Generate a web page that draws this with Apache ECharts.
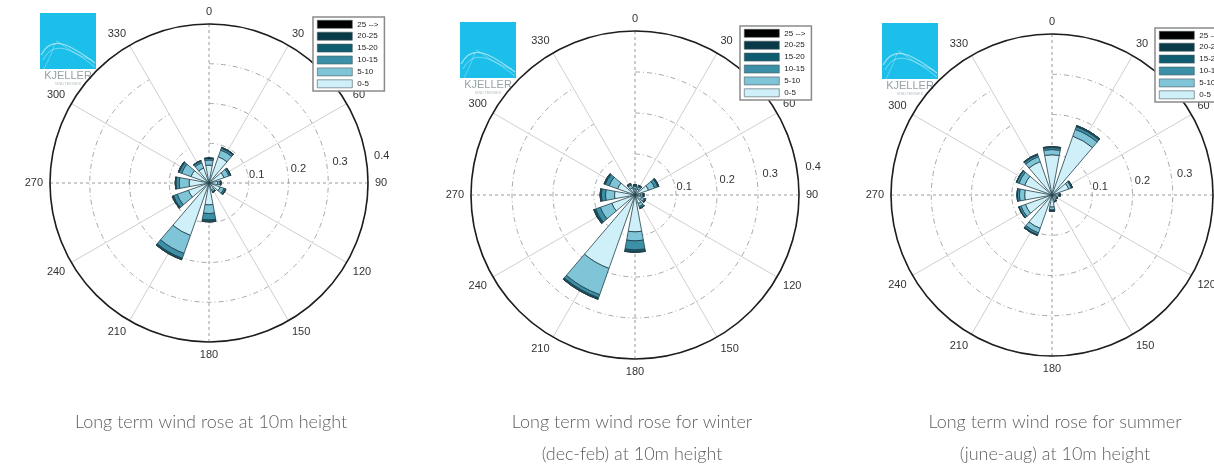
<!DOCTYPE html>
<html>
<head>
<meta charset="utf-8">
<style>
  html, body { margin: 0; padding: 0; background: #ffffff; }
  #chart { width: 1214px; height: 466px; }
</style>
<script src="https://cdn.jsdelivr.net/npm/echarts@6/dist/echarts.min.js"></script>
</head>
<body>
<div id="chart"></div>
<script>
// Sector centres in degrees (clockwise from north)
const directions = ['0', '30', '60', '90', '120', '150', '180', '210', '240', '270', '300', '330'];

// Wind speed classes (m/s), lowest first = innermost ring of each bar
const speedClasses = ['0-5', '5-10', '10-15', '15-20', '20-25', '25 -->'];
const classColors = ['#cfeff9', '#80c4d8', '#3b8fa6', '#0f5c70', '#083a48', '#000000'];

// Relative frequency per sector, one row per speed class (0-5 first)
const annualFreq = [
  [0.045, 0.070, 0.040, 0.022, 0.030, 0.018, 0.055, 0.140, 0.055, 0.050, 0.048, 0.040],
  [0.013, 0.018, 0.013, 0.006, 0.010, 0.005, 0.022, 0.048, 0.030, 0.025, 0.025, 0.014],
  [0.004, 0.005, 0.004, 0.002, 0.004, 0.002, 0.016, 0.013, 0.010, 0.008, 0.007, 0.005],
  [0.001, 0.002, 0.001, 0.000, 0.001, 0.000, 0.004, 0.003, 0.003, 0.002, 0.002, 0.001],
  [0.000, 0.000, 0.000, 0.000, 0.000, 0.000, 0.001, 0.001, 0.000, 0.000, 0.000, 0.000],
  [0.000, 0.000, 0.000, 0.000, 0.000, 0.000, 0.000, 0.000, 0.000, 0.000, 0.000, 0.000]
];
const winterFreq = [
  [0.015, 0.015, 0.035, 0.014, 0.017, 0.022, 0.090, 0.190, 0.060, 0.050, 0.045, 0.018],
  [0.006, 0.006, 0.016, 0.005, 0.007, 0.008, 0.022, 0.068, 0.030, 0.022, 0.022, 0.008],
  [0.003, 0.003, 0.008, 0.002, 0.003, 0.004, 0.022, 0.008, 0.012, 0.010, 0.010, 0.003],
  [0.001, 0.001, 0.002, 0.001, 0.001, 0.001, 0.005, 0.003, 0.004, 0.003, 0.003, 0.001],
  [0.000, 0.000, 0.001, 0.000, 0.000, 0.000, 0.001, 0.001, 0.001, 0.000, 0.000, 0.000],
  [0.000, 0.000, 0.000, 0.000, 0.000, 0.000, 0.000, 0.000, 0.000, 0.000, 0.000, 0.000]
];
const summerFreq = [
  [0.100, 0.155, 0.044, 0.016, 0.012, 0.014, 0.030, 0.088, 0.070, 0.068, 0.072, 0.088],
  [0.013, 0.018, 0.007, 0.003, 0.002, 0.003, 0.007, 0.012, 0.012, 0.013, 0.015, 0.013],
  [0.005, 0.007, 0.002, 0.001, 0.001, 0.001, 0.003, 0.005, 0.005, 0.005, 0.006, 0.005],
  [0.002, 0.003, 0.001, 0.000, 0.000, 0.000, 0.000, 0.002, 0.001, 0.001, 0.001, 0.002],
  [0.000, 0.000, 0.000, 0.000, 0.000, 0.000, 0.000, 0.000, 0.000, 0.000, 0.000, 0.000],
  [0.000, 0.000, 0.000, 0.000, 0.000, 0.000, 0.000, 0.000, 0.000, 0.000, 0.000, 0.000]
];

const captions = [
  ['Long term wind rose at 10m height'],
  ['Long term wind rose for winter', '(dec-feb) at 10m height'],
  ['Long term wind rose for summer', '(june-aug) at 10m height']
];

const radiusMax = 0.4;
const radiusStep = 0.1;
const cardinalStep = 90;

// Panel layout: rose centre/radius, legend box, logo corner, caption centre
const panels = [
  { freq: annualFreq, center: [209, 183], r: 159, legend: [313, 17], logo: [40, 13], capX: 211 },
  { freq: winterFreq, center: [635, 195], r: 164, legend: [740, 26], logo: [460, 22], capX: 632 },
  { freq: summerFreq, center: [1052, 195], r: 161, legend: [1155, 28], logo: [882, 23], capX: 1055 }
];

const polar = [], angleAxis = [], radiusAxis = [], series = [], legend = [], graphic = [];
const labelFont = { fontFamily: 'Liberation Sans, Arial, sans-serif', fontSize: 11, color: '#333' };
const hidden = { axisLine: { show: false }, axisTick: { show: false }, axisLabel: { show: false }, splitLine: { show: false } };

panels.forEach((p, i) => {
  const base = polar.length;

  // 1) main grid: 30-degree spokes, dash-dot rings, direction labels
  polar.push({ center: p.center, radius: p.r });
  angleAxis.push({
    polarIndex: base, type: 'category', data: directions, boundaryGap: false,
    startAngle: 90, clockwise: true,
    axisLine: { show: false },
    axisTick: { show: false },
    axisLabel: Object.assign({ margin: 7 }, labelFont),
    splitLine: { show: true, lineStyle: { color: ['rgba(0,0,0,0)', '#cfcfcf', '#cfcfcf'], width: 1 } }
  });
  radiusAxis.push({
    polarIndex: base, type: 'value', min: 0, max: radiusMax, interval: radiusStep,
    axisLine: { show: false }, axisTick: { show: false }, axisLabel: { show: false },
    splitLine: { show: true, lineStyle: { color: '#a9a9a9', width: 1, type: [5, 3, 1, 3] } }
  });

  // 2) full outer circle plus dashed N-S / E-W axes
  polar.push({ center: p.center, radius: p.r });
  angleAxis.push({
    polarIndex: base + 1, type: 'value', min: 0, max: 360, interval: cardinalStep,
    startAngle: 90, clockwise: true,
    axisLine: { show: true, lineStyle: { color: '#1e1e1e', width: 1.6 } },
    axisTick: { show: false }, axisLabel: { show: false },
    splitLine: { show: true, lineStyle: { color: '#9a9a9a', width: 1, type: [3, 3] } }
  });
  radiusAxis.push(Object.assign({ polarIndex: base + 1, type: 'value', min: 0, max: radiusMax }, hidden));

  // 3) frequency labels laid out just outside each ring
  polar.push({ center: p.center, radius: [p.r * 0.038, p.r * 1.1] });
  angleAxis.push({ polarIndex: base + 2, type: 'value', startAngle: 9, show: false });
  radiusAxis.push({
    polarIndex: base + 2, type: 'value', min: 0, max: radiusMax, interval: radiusStep,
    axisLine: { show: false }, axisTick: { show: false }, splitLine: { show: false },
    axisLabel: Object.assign({ show: true, showMinLabel: false, margin: 0, align: 'center', verticalAlign: 'middle' }, labelFont)
  });

  // stacked sectors, one series per speed class
  speedClasses.forEach((name, k) => {
    series.push({
      type: 'bar', name, coordinateSystem: 'polar', polarIndex: base,
      stack: 'rose' + i, barWidth: '70%',
      data: p.freq[k],
      itemStyle: { color: classColors[k], borderColor: '#21404a', borderWidth: 0.8 },
      emphasis: { disabled: true }, silent: true, animation: false
    });
  });

  legend.push({
    left: p.legend[0], top: p.legend[1], orient: 'vertical',
    data: speedClasses.slice().reverse(),
    icon: 'rect', itemWidth: 35, itemHeight: 8, itemGap: 3.3,
    padding: [3, 6, 3, 4], backgroundColor: '#ffffff',
    borderColor: '#8a8a8a', borderWidth: 1.5, borderRadius: 0,
    selectedMode: false,
    itemStyle: { borderWidth: 0.6, borderColor: '#4a5a60' },
    textStyle: { fontFamily: 'Liberation Sans, Arial, sans-serif', fontSize: 8, lineHeight: 8, color: '#222' }
  });

  // company mark in the upper-left corner
  const [lx, ly] = p.logo;
  graphic.push({
    type: 'group', x: lx, y: ly, z: 20,
    children: [
      { type: 'rect', shape: { x: 0, y: 0, width: 56, height: 56 }, style: { fill: '#1cbfe9' } },
      { type: 'bezierCurve', shape: { x1: 1, y1: 42, cpx1: 12, cpy1: 22, cpx2: 28, cpy2: 30, x2: 55, y2: 50 },
        style: { stroke: 'rgba(255,255,255,0.55)', lineWidth: 1.2, fill: null } },
      { type: 'bezierCurve', shape: { x1: 3, y1: 47, cpx1: 14, cpy1: 26, cpx2: 32, cpy2: 36, x2: 55, y2: 54 },
        style: { stroke: 'rgba(255,255,255,0.4)', lineWidth: 1, fill: null } },
      { type: 'bezierCurve', shape: { x1: 16, y1: 28, cpx1: 22, cpy1: 30, cpx2: 30, cpy2: 40, x2: 52, y2: 47 },
        style: { stroke: 'rgba(255,255,255,0.35)', lineWidth: 1, fill: null } },
      { type: 'bezierCurve', shape: { x1: 15, y1: 30, cpx1: 12, cpy1: 40, cpx2: 8, cpy2: 48, x2: 4, y2: 56 },
        style: { stroke: 'rgba(255,255,255,0.3)', lineWidth: 1, fill: null } },
      { type: 'text', x: 28, y: 63, style: { text: 'KJELLER', fill: '#95a3a8', fontSize: 11,
        fontFamily: 'Liberation Sans, Arial, sans-serif', align: 'center', textAlign: 'center', verticalAlign: 'middle', textVerticalAlign: 'middle' } },
      { type: 'text', x: 28, y: 71, style: { text: 'VINDTEKNIKK', fill: '#b3bec2', fontSize: 4,
        fontFamily: 'Liberation Sans, Arial, sans-serif', align: 'center', textAlign: 'center', verticalAlign: 'middle', textVerticalAlign: 'middle' } }
    ]
  });

  // caption under each rose
  captions[i].forEach((line, j) => {
    graphic.push({
      type: 'text', x: p.capX, y: 422 + j * 32, z: 20,
      style: { text: line, fill: '#5e5e5e', fontSize: 18, fontWeight: 300, fontFamily: 'Lato, sans-serif',
        align: 'center', textAlign: 'center', verticalAlign: 'middle', textVerticalAlign: 'middle' }
    });
  });
});

const chart = echarts.init(document.getElementById('chart'), null, { renderer: 'canvas' });
chart.setOption({
  backgroundColor: '#ffffff',
  animation: false,
  polar, angleAxis, radiusAxis, series, legend, graphic
});
</script>
</body>
</html>
